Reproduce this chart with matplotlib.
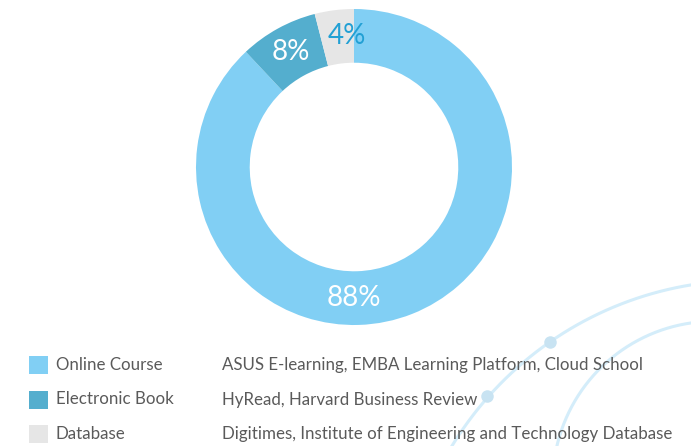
import numpy as np
import matplotlib
matplotlib.use("Agg")
import matplotlib.pyplot as plt
from matplotlib.patches import Rectangle

plt.rcParams['font.family'] = ['Lato', 'DejaVu Sans']

# data
categories = ["Online Course", "Electronic Book", "Database"]
shares = [88, 8, 4]
descriptions = [
    "ASUS E-learning, EMBA Learning Platform, Cloud School",
    "HyRead, Harvard Business Review",
    "Digitimes, Institute of Engineering and Technology Database",
]
colors = ["#81CFF4", "#54AECE", "#E6E6E6"]
label_colors = ["white", "white", "#22A0D4"]
# label angles (deg) used in the original: big slice label sits at the bottom
label_angles = [270, None, 93]

W, H = 691, 446
fig = plt.figure(figsize=(W / 100, H / 100), dpi=100)

# overlay axes in pixel coordinates for decorations + legend
bg = fig.add_axes([0, 0, 1, 1])
bg.set_xlim(0, W)
bg.set_ylim(H, 0)
bg.axis("off")

# decorative arcs in the lower right
arc_color = "#D4EDFA"
t = np.linspace(0, 2 * np.pi, 800)
for cx, cy, r in [(746.6, 625.4, 345.0), (714.0, 482.6, 161.3)]:
    bg.plot(cx + r * np.cos(t), cy + r * np.sin(t), color=arc_color, lw=2.2, zorder=0)
for dx, dy in [(550, 342), (487, 396)]:
    bg.plot(dx, dy, "o", ms=9, color="#C8E3F2", mec="none", zorder=1)

# donut
cx, cy, R = 354, 167, 158
ax = fig.add_axes([(cx - R) / W, (H - cy - R) / H, 2 * R / W, 2 * R / H])
wedges, _ = ax.pie(shares, colors=colors, startangle=90, counterclock=False,
                   radius=1, wedgeprops=dict(width=0.34, linewidth=0))
ax.set_xlim(-1, 1)
ax.set_ylim(-1, 1)
ax.set_aspect("equal")
ax.axis("off")

rmid = 1 - 0.34 / 2
for w, val, lc, la in zip(wedges, shares, label_colors, label_angles):
    a = (w.theta1 + w.theta2) / 2 if la is None else la
    ang = np.deg2rad(a)
    ax.text(rmid * np.cos(ang), rmid * np.sin(ang), f"{val}%", color=lc,
            fontsize=20, ha="center", va="center")

# legend rows
row_y = [365, 399.5, 434]
for y, name, desc, c in zip(row_y, categories, descriptions, colors):
    bg.add_patch(Rectangle((29, y - 9), 19, 18, color=c, lw=0))
    bg.text(56, y, name, color="#5A5A5A", fontsize=12.2, va="center", ha="left")
    bg.text(222, y, desc, color="#5A5A5A", fontsize=12.2, va="center", ha="left")

fig.savefig("out.png", dpi=100, facecolor="white")
